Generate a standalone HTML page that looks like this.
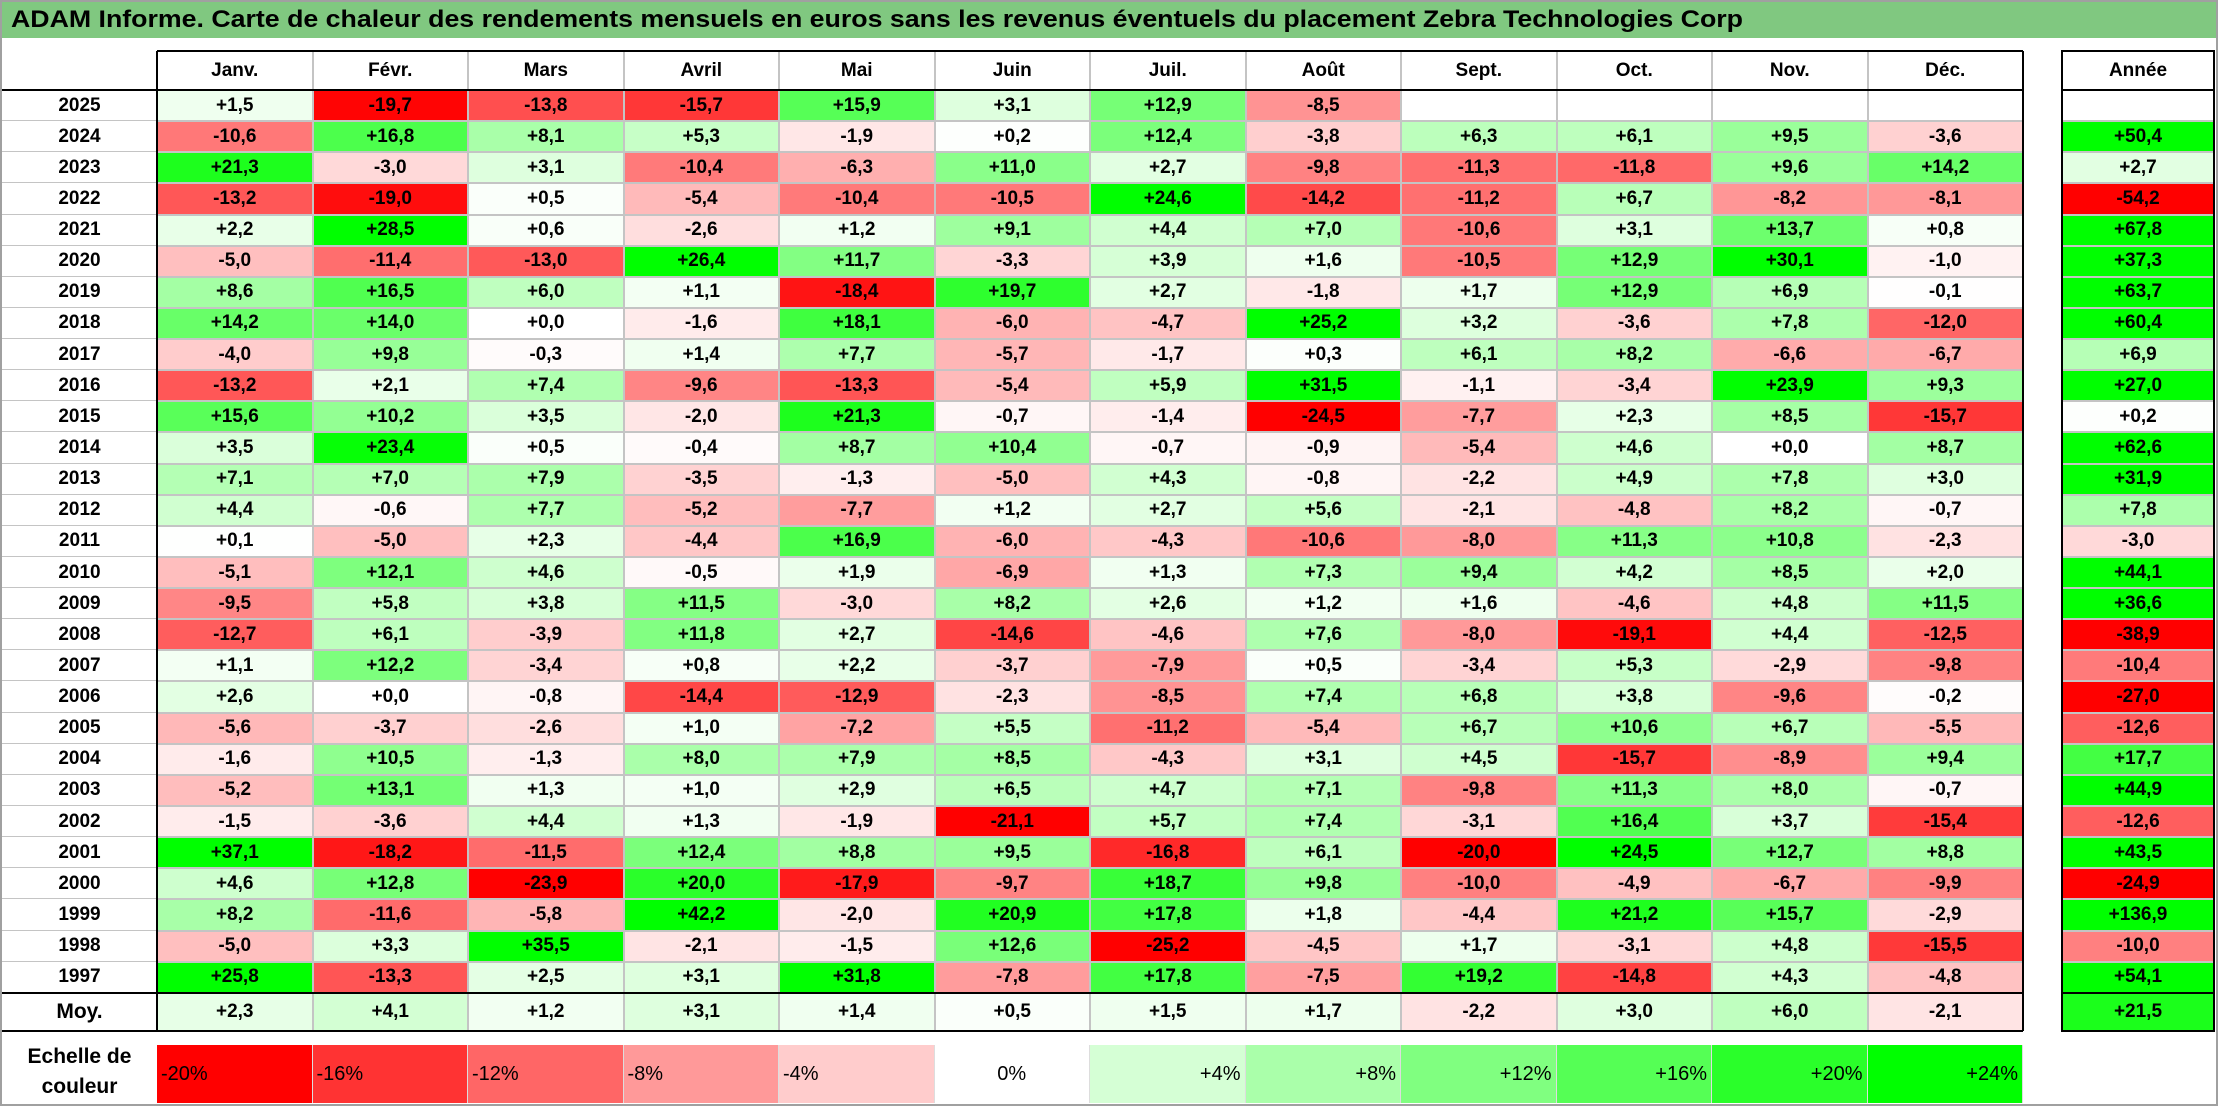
<!DOCTYPE html>
<html><head><meta charset="utf-8">
<style>
html,body{margin:0;padding:0;background:#fff;}
#root{position:relative;width:2218px;height:1106px;overflow:hidden;font-family:"Liberation Sans",Arial,sans-serif;font-weight:bold;color:#000;}
.c{position:absolute;box-sizing:border-box;display:flex;align-items:center;justify-content:center;font-size:19px;white-space:nowrap;}
.ln{position:absolute;}
</style></head>
<body>
<div id="root">
  <div class="ln" style="left:0;top:0;width:2218px;height:1106px;box-sizing:border-box;border:2px solid #a0a0a0;"></div>
  <div style="position:absolute;left:2px;top:2px;width:2214px;height:36px;background:#80c880;"></div>
  <div id="title" style="position:absolute;left:11px;top:6px;font-size:24px;white-space:nowrap;transform-origin:0 0;">ADAM Informe. Carte de chaleur des rendements mensuels en euros sans les revenus éventuels du placement Zebra Technologies Corp</div>
</div>
<script>
const months = ["Janv.","Févr.","Mars","Avril","Mai","Juin","Juil.","Août","Sept.","Oct.","Nov.","Déc."];
const years = [2025,2024,2023,2022,2021,2020,2019,2018,2017,2016,2015,2014,2013,2012,2011,2010,2009,2008,2007,2006,2005,2004,2003,2002,2001,2000,1999,1998,1997];
const monthly = [
[1.5,-19.7,-13.8,-15.7,15.9,3.1,12.9,-8.5,null,null,null,null],
[-10.6,16.8,8.1,5.3,-1.9,0.2,12.4,-3.8,6.3,6.1,9.5,-3.6],
[21.3,-3.0,3.1,-10.4,-6.3,11.0,2.7,-9.8,-11.3,-11.8,9.6,14.2],
[-13.2,-19.0,0.5,-5.4,-10.4,-10.5,24.6,-14.2,-11.2,6.7,-8.2,-8.1],
[2.2,28.5,0.6,-2.6,1.2,9.1,4.4,7.0,-10.6,3.1,13.7,0.8],
[-5.0,-11.4,-13.0,26.4,11.7,-3.3,3.9,1.6,-10.5,12.9,30.1,-1.0],
[8.6,16.5,6.0,1.1,-18.4,19.7,2.7,-1.8,1.7,12.9,6.9,-0.1],
[14.2,14.0,0.0,-1.6,18.1,-6.0,-4.7,25.2,3.2,-3.6,7.8,-12.0],
[-4.0,9.8,-0.3,1.4,7.7,-5.7,-1.7,0.3,6.1,8.2,-6.6,-6.7],
[-13.2,2.1,7.4,-9.6,-13.3,-5.4,5.9,31.5,-1.1,-3.4,23.9,9.3],
[15.6,10.2,3.5,-2.0,21.3,-0.7,-1.4,-24.5,-7.7,2.3,8.5,-15.7],
[3.5,23.4,0.5,-0.4,8.7,10.4,-0.7,-0.9,-5.4,4.6,0.0,8.7],
[7.1,7.0,7.9,-3.5,-1.3,-5.0,4.3,-0.8,-2.2,4.9,7.8,3.0],
[4.4,-0.6,7.7,-5.2,-7.7,1.2,2.7,5.6,-2.1,-4.8,8.2,-0.7],
[0.1,-5.0,2.3,-4.4,16.9,-6.0,-4.3,-10.6,-8.0,11.3,10.8,-2.3],
[-5.1,12.1,4.6,-0.5,1.9,-6.9,1.3,7.3,9.4,4.2,8.5,2.0],
[-9.5,5.8,3.8,11.5,-3.0,8.2,2.6,1.2,1.6,-4.6,4.8,11.5],
[-12.7,6.1,-3.9,11.8,2.7,-14.6,-4.6,7.6,-8.0,-19.1,4.4,-12.5],
[1.1,12.2,-3.4,0.8,2.2,-3.7,-7.9,0.5,-3.4,5.3,-2.9,-9.8],
[2.6,0.0,-0.8,-14.4,-12.9,-2.3,-8.5,7.4,6.8,3.8,-9.6,-0.2],
[-5.6,-3.7,-2.6,1.0,-7.2,5.5,-11.2,-5.4,6.7,10.6,6.7,-5.5],
[-1.6,10.5,-1.3,8.0,7.9,8.5,-4.3,3.1,4.5,-15.7,-8.9,9.4],
[-5.2,13.1,1.3,1.0,2.9,6.5,4.7,7.1,-9.8,11.3,8.0,-0.7],
[-1.5,-3.6,4.4,1.3,-1.9,-21.1,5.7,7.4,-3.1,16.4,3.7,-15.4],
[37.1,-18.2,-11.5,12.4,8.8,9.5,-16.8,6.1,-20.0,24.5,12.7,8.8],
[4.6,12.8,-23.9,20.0,-17.9,-9.7,18.7,9.8,-10.0,-4.9,-6.7,-9.9],
[8.2,-11.6,-5.8,42.2,-2.0,20.9,17.8,1.8,-4.4,21.2,15.7,-2.9],
[-5.0,3.3,35.5,-2.1,-1.5,12.6,-25.2,-4.5,1.7,-3.1,4.8,-15.5],
[25.8,-13.3,2.5,3.1,31.8,-7.8,17.8,-7.5,19.2,-14.8,4.3,-4.8]
];
const annual = [null,50.4,2.7,-54.2,67.8,37.3,63.7,60.4,6.9,27.0,0.2,62.6,31.9,7.8,-3.0,44.1,36.6,-38.9,-10.4,-27.0,-12.6,17.7,44.9,-12.6,43.5,-24.9,136.9,-10.0,54.1];
const averages = [2.3,4.1,1.2,3.1,1.4,0.5,1.5,1.7,-2.2,3.0,6.0,-2.1];
const averageAnnual = 21.5;
const scaleTicks = [-20,-16,-12,-8,-4,0,4,8,12,16,20,24];

const root = document.getElementById('root');
const X0 = 157, CW = 155.5, HY = 51, HB = 90, RH = 31.13;
const AX = 2062, AW = 152;
const rowY = i => HB + i*RH;
const colX = j => X0 + j*CW;
function color(v){
  if(v===null) return '#ffffff';
  let r,g,b;
  if(v<0){const t=Math.min(1,-v/20);r=255;g=Math.round(255*(1-t));b=g;}
  else{const t=Math.min(1,v/24);r=Math.round(255*(1-t));g=255;b=r;}
  return `rgb(${r},${g},${b})`;
}
function fmt(v){ if(v===null) return ''; return (v>=0?'+':'-')+Math.abs(v).toFixed(1).replace('.',','); }
function cell(x,y,w,h,txt,bg,extra){
  const d=document.createElement('div');
  d.className='c';
  d.style.left=x+'px';d.style.top=y+'px';d.style.width=w+'px';d.style.height=h+'px';
  if(bg) d.style.background=bg;
  d.textContent=txt;
  if(extra) Object.assign(d.style,extra);
  root.appendChild(d);
  return d;
}
function line(x,y,w,h,c){
  const d=document.createElement('div');
  d.className='ln';
  
  
  d.style.left=x+'px';d.style.top=y+'px';d.style.width=w+'px';d.style.height=h+'px';d.style.background=c;
  root.appendChild(d);
}
// headers
months.forEach((m,j)=>{
  const d=cell(colX(j),HY,CW,HB-HY,m,null);
  
  
});
const ah=cell(AX,HY,AW,HB-HY,'Année',null);


// rows
years.forEach((yr,i)=>{
  const y=rowY(i);
  const l=cell(2,y,X0-2,RH,String(yr),null);
  
  
  monthly[i].forEach((v,j)=>{
    const d=cell(colX(j),y,CW,RH,fmt(v),color(v));
    
    
  });
  const a=cell(AX,y,AW,RH,fmt(annual[i]),color(annual[i]));
  
  
});
const MY = rowY(years.length), MH = 1031-MY;
const ml=cell(2,MY,X0-2,MH,'Moy.',null,{fontSize:'21px'});


averages.forEach((v,j)=>{
  const d=cell(colX(j),MY,CW,MH,fmt(v),color(v));
  
  
});
const ma=cell(AX,MY,AW,MH,fmt(averageAnnual),color(averageAnnual));


// grid lines (gray)
for(let j=1;j<12;j++) line(colX(j)-1,HY,2,MY+MH-HY,'#c4c4c4');
for(let i=1;i<=years.length;i++){ line(X0,rowY(i)-1,12*CW,2,'#c4c4c4'); line(AX,rowY(i)-1,AW,2,'#c4c4c4'); line(2,rowY(i)-1,X0-2,1,'#c4c4c4'); }
// black borders
const BK='#000';
line(X0,HY-1,12*CW,2,BK);
line(2,HB-1,X0+12*CW-2,2,BK);
line(X0-1,HY,2,MY+MH-HY,BK);
line(X0+12*CW-1,HY,2,MY+MH-HY,BK);
line(2,MY-1,X0+12*CW-2,2,BK);
line(2,MY+MH-1,X0+12*CW-2,2,BK);
line(AX-1,HY-1,AW+2,2,BK);
line(AX-1,HB-1,AW+2,2,BK);
line(AX-1,HY,2,MY+MH-HY,BK);
line(AX+AW-1,HY,2,MY+MH-HY,BK);
line(AX-1,MY-1,AW+2,2,BK);
line(AX-1,MY+MH-1,AW+2,2,BK);
// color scale
const SY=1045, SH=58;
const sl=cell(2,SY-4,X0-2,SH+4,'',null,{flexDirection:'column',lineHeight:'30px',fontSize:'21px'});
sl.innerHTML='<span>Echelle de</span><span>couleur</span>';


scaleTicks.forEach((v,j)=>{
  const txt=(v>0?'+':v<0?'-':'')+Math.abs(v)+'%';
  const jc=v<0?'flex-start':v>0?'flex-end':'center';
  const d=cell(colX(j),SY,CW,SH,txt,color(v),{justifyContent:jc,padding:'0 4px',fontWeight:'normal',fontSize:'20px',borderRight:'1px solid #ddd'});
  
  
});
// fit title
const t=document.getElementById('title');
const w=t.getBoundingClientRect().width;
t.style.transform='scaleX('+(1732/w)+')';
</script>
</body></html>
